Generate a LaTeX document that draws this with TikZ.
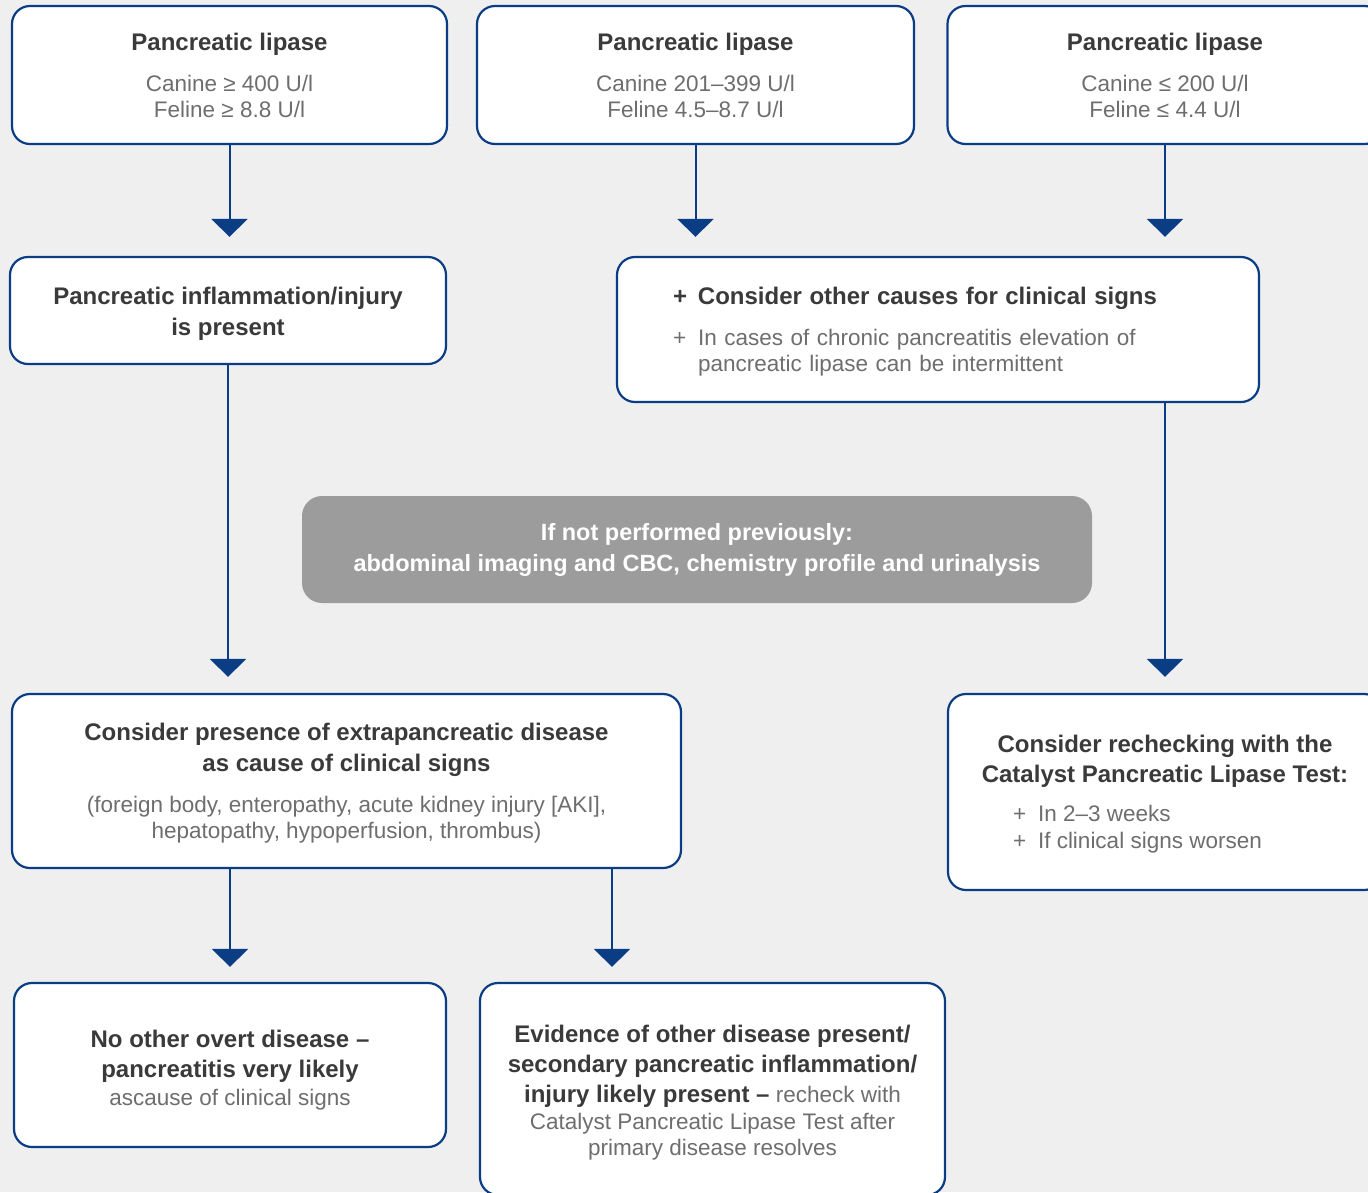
\documentclass[tikz,border=0pt]{standalone}
\usepackage{fontspec}
\setmainfont{Liberation Sans}
\usetikzlibrary{arrows.meta}

\definecolor{navy}{HTML}{0B3D85}
\definecolor{ink}{HTML}{3A3A3A}
\definecolor{txt}{HTML}{6E6E6E}
\definecolor{bggray}{HTML}{EFEFEF}
\definecolor{notegray}{HTML}{9C9C9D}

\newcommand\ttl[1]{{\bfseries\fontsize{24}{26}\selectfont\color{ink}#1}}
\newcommand\plus{\makebox[25pt][l]{+}}
\newcommand\topstrut[1]{\rule{0pt}{#1}}

\begin{document}
\begin{tikzpicture}[x=1pt,y=-1pt,
  box/.style={draw=navy,line width=2.2pt,fill=white,rounded corners=18pt,
    inner sep=0pt,align=center,text=txt,font=\fontsize{22.5}{26}\selectfont},
  note/.style={fill=notegray,rounded corners=20pt,inner sep=0pt,align=center,
    text=white,font=\bfseries\fontsize{23.5}{26}\selectfont},
  arr/.style={draw=navy,line width=2pt,-{Triangle[width=36pt,length=18pt]}}]

\useasboundingbox (0,0) rectangle (1368,1192);
\fill[bggray] (0,0) rectangle (1368,1192);
\clip (0,0) rectangle (1368,1192);

% lipase levels
\node[box,minimum width=435pt,minimum height=138pt] (a1) at (229.5,75)
  {\ttl{Pancreatic lipase}\\[15pt]Canine ≥ 400 U/l\\Feline ≥ 8.8 U/l};
\node[box,minimum width=437pt,minimum height=138pt] (a2) at (695.5,75)
  {\ttl{Pancreatic lipase}\\[15pt]Canine 201–399 U/l\\Feline 4.5–8.7 U/l};
\node[box,minimum width=435pt,minimum height=138pt] (a3) at (1165,75)
  {\ttl{Pancreatic lipase}\\[15pt]Canine ≤ 200 U/l\\Feline ≤ 4.4 U/l};

% second row
\node[box,minimum width=436pt,minimum height=107pt] (b1) at (228,310.5)
  {\topstrut{23.5pt}\ttl{Pancreatic inflammation/injury}\\[5pt]\ttl{is present}};
\node[box,align=left,text width=530pt,inner xsep=56pt,minimum height=145pt] (b2) at (938,329.5)
  {\topstrut{21.5pt}\ttl{\plus Consider other causes for clinical signs}\\[15pt]%
   \plus In cases of chronic pancreatitis elevation of\\%
   \hspace*{25pt}pancreatic lipase can be intermittent};

\node[note,minimum width=790pt,minimum height=107pt] (n) at (697,549.5)
  {If not performed previously:\\[5pt]abdominal imaging and CBC, chemistry profile and urinalysis};

% third row
\node[box,minimum width=669pt,minimum height=174pt] (c1) at (346.5,781)
  {\topstrut{22.5pt}\ttl{Consider presence of extrapancreatic disease}\\[5pt]\ttl{as cause of clinical signs}\\[15pt]%
   (foreign body, enteropathy, acute kidney injury [AKI],\\hepatopathy, hypoperfusion, thrombus)};
\node[box,minimum width=434pt,minimum height=196pt] (c2) at (1165,792)
  {\topstrut{21.5pt}\ttl{Consider rechecking with the}\\[4pt]\ttl{Catalyst Pancreatic Lipase Test:}\\[13pt]%
   \makebox[304pt][l]{\plus In 2–3 weeks}\\[1pt]%
   \makebox[304pt][l]{\plus If clinical signs worsen}};

% last row
\node[box,minimum width=432pt,minimum height=164pt] (d1) at (230,1065)
  {\topstrut{27.5pt}\ttl{No other overt disease –}\\[4pt]\ttl{pancreatitis very likely}\\[2pt]ascause of clinical signs};
\node[box,minimum width=465pt,minimum height=212pt] (d2) at (712.5,1089)
  {\topstrut{25.5pt}\ttl{Evidence of other disease present/}\\[4pt]\ttl{secondary pancreatic inflammation/}\\[4pt]%
   \ttl{injury likely present –} recheck with\\[1pt]Catalyst Pancreatic Lipase Test after\\primary disease resolves};

\coordinate (split) at (612,0);

\draw[arr,shorten >=19pt] (a1.south) -- (a1.south |- b1.north);
\draw[arr,shorten >=19pt] (a2.south) -- (a2.south |- b2.north);
\draw[arr,shorten >=19pt] (a3.south) -- (a3.south |- b2.north);
\draw[arr,shorten >=16pt] (b1.south) -- (b1.south |- c1.north);
\draw[arr,shorten >=16pt] (b2.south -| a3) -- (c2.north);
\draw[arr,shorten >=15pt] (c1.south -| d1) -- (d1.north);
\draw[arr,shorten >=15pt] (c1.south -| split) -- (d2.north -| split);
\end{tikzpicture}
\end{document}
